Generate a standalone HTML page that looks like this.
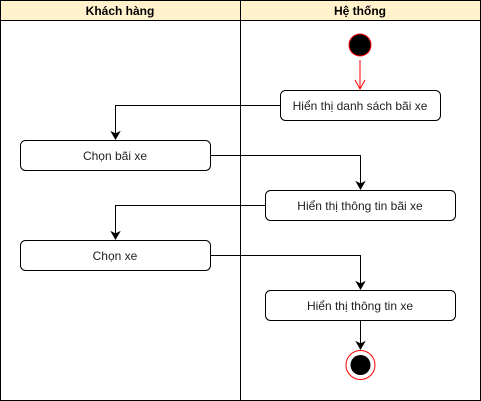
<!DOCTYPE html>
<html><head><meta charset="utf-8"><style>html,body{margin:0;padding:0;background:#fff;}svg{display:block}</style></head>
<body>
<svg width="481" height="401" viewBox="0 0 481 401" xmlns="http://www.w3.org/2000/svg" font-family="'Liberation Sans', Arial, sans-serif">
<defs>
<marker id="a" markerWidth="10" markerHeight="10" refX="8" refY="5" orient="auto" markerUnits="userSpaceOnUse">
<path d="M1,1 L8,5 L1,9 L3,5 Z" fill="#000" stroke="#000" stroke-width="1"/>
</marker>
</defs>
<rect x="0.5" y="0.5" width="480" height="400" fill="#fff" stroke="#000"/>
<rect x="0.5" y="0.5" width="480" height="20" fill="#fff2cc" stroke="#000"/>
<line x1="240.5" y1="0" x2="240.5" y2="401" stroke="#000"/>
<text x="120" y="15" text-anchor="middle" font-size="12" font-weight="bold">Khách hàng</text>
<text x="360" y="15" text-anchor="middle" font-size="12" font-weight="bold">Hệ thống</text>

<circle cx="360" cy="45" r="11" fill="#000" stroke="#f00"/>
<line x1="360" y1="60" x2="360" y2="89" stroke="#f00"/>
<path d="M355,80 L360,89 L365,80" fill="none" stroke="#f00"/>

<g fill="#fff" stroke="#000">
<rect x="280.5" y="90.5" width="160" height="30" rx="5"/>
<rect x="20.5" y="140.5" width="190" height="30" rx="5"/>
<rect x="265.5" y="190.5" width="190" height="30" rx="5"/>
<rect x="20.5" y="240.5" width="190" height="30" rx="5"/>
<rect x="265.5" y="290.5" width="190" height="30" rx="5"/>
</g>
<g font-size="12" text-anchor="middle" fill="#222">
<text x="360" y="110">Hiển thị danh sách bãi xe</text>
<text x="115" y="160">Chọn bãi xe</text>
<text x="360" y="210">Hiển thị thông tin bãi xe</text>
<text x="115" y="260">Chọn xe</text>
<text x="360" y="310">Hiển thị thông tin xe</text>
</g>
<g fill="none" stroke="#000" marker-end="url(#a)">
<path d="M280,105.5 H115.5 V139"/>
<path d="M210,155.5 H360.5 V189"/>
<path d="M265,205.5 H115.5 V239"/>
<path d="M210,255.5 H360.5 V289"/>
<path d="M360.5,321 V349"/>
</g>
<circle cx="360.5" cy="365" r="14.5" fill="#fff" stroke="#f00"/>
<circle cx="360.5" cy="365" r="10" fill="#000"/>
</svg>
</body></html>
